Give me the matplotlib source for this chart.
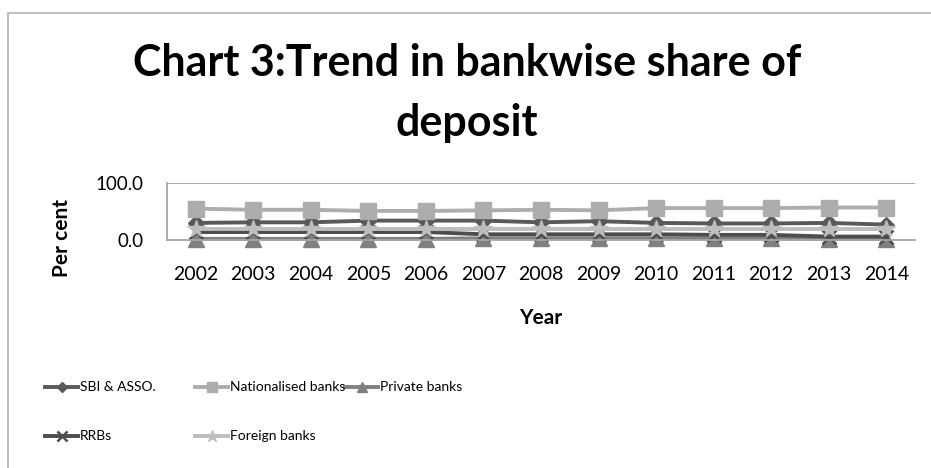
import matplotlib
matplotlib.use("Agg")
import matplotlib.pyplot as plt
from matplotlib.lines import Line2D
from matplotlib.patches import Rectangle

plt.rcParams['font.family'] = ['Lato', 'DejaVu Sans']

years = ["2002", "2003", "2004", "2005", "2006", "2007", "2008",
         "2009", "2010", "2011", "2012", "2013", "2014"]

sbi = [30.0, 31.0, 31.0, 34.0, 34.0, 34.0, 31.0, 33.0, 30.0, 29.0, 29.0, 30.0, 27.0]
nationalised = [55.0, 53.0, 53.0, 51.0, 51.0, 52.0, 53.0, 52.0, 56.0, 56.0, 56.0, 57.0, 57.0]
private = [2.0, 2.0, 2.0, 2.0, 2.0, 3.0, 3.0, 3.0, 3.0, 3.0, 3.0, 2.0, 2.0]
rrbs = [14.0, 14.0, 14.0, 14.0, 14.0, 10.0, 10.0, 10.0, 10.0, 9.0, 9.0, 6.0, 6.0]
foreign = [20.0, 20.0, 20.0, 20.0, 20.0, 20.0, 20.0, 20.0, 20.0, 20.0, 20.0, 20.0, 20.0]

series_names = ["SBI & ASSO.", "Nationalised banks", "Private banks", "RRBs", "Foreign banks"]
series_values = [sbi, nationalised, private, rrbs, foreign]
styles = [
    dict(color="#595959", marker="D", markersize=8),
    dict(color="#ADADAD", marker="s", markersize=11),
    dict(color="#808080", marker="^", markersize=11),
    dict(color="#4D4D4D", marker="x", markersize=9.5, markeredgewidth=1.8),
    dict(color="#BDBDBD", marker="*", markersize=13),
]

W, H = 931, 468
fig = plt.figure(figsize=(W / 100, H / 100), dpi=100)
fig.patch.set_facecolor("white")

# chart frame
fig.add_artist(Rectangle((8 / W, -0.2), 1.2, 1 - 13 / H + 0.2, transform=fig.transFigure,
                         fill=False, edgecolor="#BFBFBF", linewidth=1.5))

fig.text(467 / W, 1 - 63 / H, "Chart 3:Trend in bankwise share of", ha="center", va="center",
         fontsize=31, fontweight="bold")
fig.text(467 / W, 1 - 123 / H, "deposit", ha="center", va="center",
         fontsize=31, fontweight="bold")

ax = fig.add_axes([167 / W, 1 - 240 / H, (915 - 167) / W, (240 - 183) / H])
x = list(range(len(years)))
for vals, st in zip(series_values, styles):
    ax.plot(x, vals, linewidth=2.8, clip_on=False, **st)

ax.set_xlim(-0.5, len(years) - 0.5)
ax.set_ylim(0, 100)
ax.set_yticks([0, 100])
ax.set_yticklabels(["0.0", "100.0"], fontsize=13.5)
ax.set_xticks(x)
ax.set_xticklabels(years, fontsize=14)
ax.tick_params(length=0)
ax.tick_params(axis="x", pad=19)
ax.tick_params(axis="y", pad=17)
ax.axhline(100, color="#A6A6A6", linewidth=1.3, zorder=0)
for s in ["top", "right"]:
    ax.spines[s].set_visible(False)
ax.spines["left"].set_color("#A6A6A6")
ax.spines["bottom"].set_color("#A6A6A6")
ax.spines["left"].set_linewidth(1.3)
ax.spines["bottom"].set_linewidth(1.3)

fig.text(541 / W, 1 - 318 / H, "Year", ha="center", va="center", fontsize=15, fontweight="bold")
fig.text(62 / W, 1 - 238 / H, "Per cent", ha="center", va="center", fontsize=15,
         fontweight="bold", rotation=90)

# legend
legend_pos = [(45, 387), (195, 387), (345, 387), (45, 436), (195, 436)]
for name, st, (lx, ly) in zip(series_names, styles, legend_pos):
    y = 1 - ly / H
    fig.add_artist(Line2D([lx / W, (lx + 33) / W], [y, y], transform=fig.transFigure,
                          linewidth=2.8, color=st["color"]))
    mst = dict(st)
    mst["markersize"] = st["markersize"] * 0.7
    fig.add_artist(Line2D([(lx + 16.5) / W], [y], transform=fig.transFigure,
                          linestyle="none", **mst))
    fig.text((lx + 35) / W, y, name, ha="left", va="center", fontsize=10)

fig.savefig("out.png", dpi=100)
